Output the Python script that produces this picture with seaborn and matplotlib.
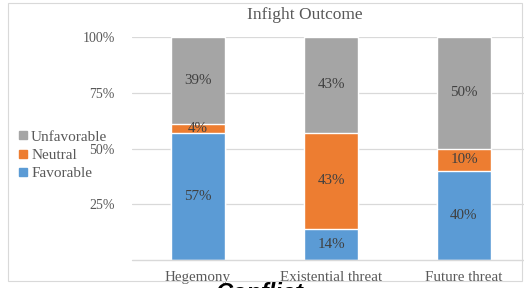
import numpy as np
import pandas as pd
import matplotlib
matplotlib.use("Agg")
import matplotlib.pyplot as plt
import seaborn as sns
from matplotlib.patches import Rectangle
from matplotlib.lines import Line2D

categories = ["Hegemony", "Existential threat", "Future threat"]
favorable = [57, 14, 40]
neutral = [4, 43, 10]
unfavorable = [39, 43, 50]
series_names = ["Unfavorable", "Neutral", "Favorable"]
yticks = [25, 50, 75, 100]

c_unf = "#A5A5A5"
c_neu = "#ED7D31"
c_fav = "#5B9BD5"
txt = "#595959"

sns.set_style("white")
plt.rcParams['font.family'] = ['Liberation Serif', 'DejaVu Serif']

df = pd.DataFrame({"cat": categories, "fav": favorable, "neu": neutral, "unf": unfavorable})
df["fav_neu"] = df["fav"] + df["neu"]
df["total"] = df["fav_neu"] + df["unf"]

fig = plt.figure(figsize=(5.24, 2.88), dpi=100)
W, H = 524, 288
ax = fig.add_axes([131.5 / W, 1 - 260 / H, 399 / W, 223 / H])

# stacked bars drawn as cumulative layers
sns.barplot(data=df, x="cat", y="total", color=c_unf, width=0.4, saturation=1, ax=ax, zorder=3)
sns.barplot(data=df, x="cat", y="fav_neu", color=c_neu, width=0.4, saturation=1, ax=ax, zorder=3)
sns.barplot(data=df, x="cat", y="fav", color=c_fav, width=0.4, saturation=1, ax=ax, zorder=3)

ax.set_ylim(0, 100)
ax.set_xlim(-0.5, 2.5)
ax.set_yticks(yticks)
ax.set_yticklabels([f"{v}%" for v in yticks])
for v in yticks:
    ax.axhline(v, color="#D9D9D9", lw=0.9, zorder=1)
ax.axhline(0, color="#D9D9D9", lw=1.0, zorder=4, clip_on=False)
for s in ax.spines.values():
    s.set_visible(False)
ax.set_xlabel("")
ax.set_ylabel("")
ax.tick_params(axis="y", length=0, pad=12, labelsize=10, labelcolor=txt)
ax.tick_params(axis="x", length=0, pad=8, labelsize=10.8, labelcolor=txt)

# segment labels
for i in range(len(categories)):
    segs = [(0, favorable[i]), (favorable[i], neutral[i]), (favorable[i] + neutral[i], unfavorable[i])]
    for bottom, h in segs:
        ax.text(i, bottom + h / 2, f"{h}%", ha="center", va="center",
                fontsize=10.8, color="#404040", zorder=5)

fig.text(305 / W, 1 - 15 / H, "Infight Outcome", ha="center", va="center",
         fontsize=12.5, color=txt)

handles = [Line2D([], [], marker="s", ls="", color=c, markersize=6)
           for c in [c_unf, c_neu, c_fav]]
fig.legend(handles, series_names, loc="upper left", bbox_to_anchor=(15 / W, 1 - 127 / H),
           frameon=False, fontsize=11, handlelength=0.6, handletextpad=0.25,
           labelspacing=0.3, labelcolor=txt, borderaxespad=0, borderpad=0.2)

# light frame of the screenshot
fig.patches.append(Rectangle((8 / W, 1 - 281 / H), 514 / W, 278 / H, transform=fig.transFigure,
                             fill=False, ec="#D9D9D9", lw=0.8))

# cropped heading below the chart
fig.text(216 / W, 1 - 282 / H, "Conflict", ha="left", va="top", fontsize=17,
         fontweight="bold", fontstyle="italic", family="Liberation Sans", color="black")

fig.savefig("out.png", dpi=100)
